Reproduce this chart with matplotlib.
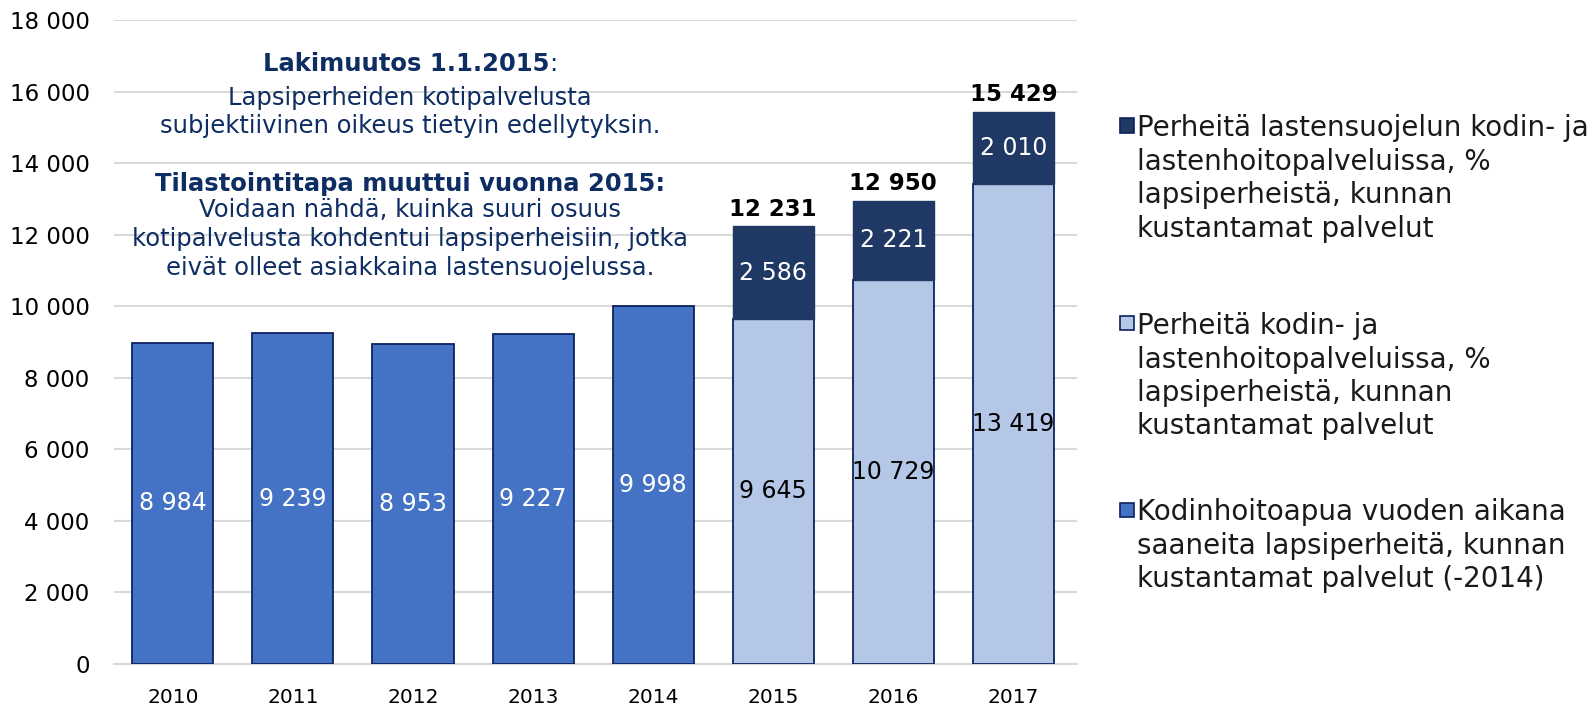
import matplotlib
matplotlib.use("Agg")
import matplotlib.pyplot as plt
from matplotlib.patches import Rectangle
import numpy as np

plt.rcParams['font.family'] = ['DejaVu Sans']

years = ['2010', '2011', '2012', '2013', '2014', '2015', '2016', '2017']
kodinhoitoapua = [8984, 9239, 8953, 9227, 9998, None, None, None]
kodin_lasten = [None, None, None, None, None, 9645, 10729, 13419]
lastensuojelu = [None, None, None, None, None, 2586, 2221, 2010]
yticks = [0, 2000, 4000, 6000, 8000, 10000, 12000, 14000, 16000, 18000]

legend_labels = [
    "Perheitä lastensuojelun kodin- ja\nlastenhoitopalveluissa, %\nlapsiperheistä, kunnan\nkustantamat palvelut",
    "Perheitä kodin- ja\nlastenhoitopalveluissa, %\nlapsiperheistä, kunnan\nkustantamat palvelut",
    "Kodinhoitoapua vuoden aikana\nsaaneita lapsiperheitä, kunnan\nkustantamat palvelut (-2014)",
]

C_MID = '#4472C4'
C_LIGHT = '#B4C7E7'
C_DARK = '#203864'
C_EDGE = '#0D2260'
NAVY = '#0E2D63'

def fmt(v):
    return f"{v:,}".replace(',', ' ')

fig = plt.figure(figsize=(15.93, 7.05), dpi=100)
ax = fig.add_axes([114/1593, 1 - 664/705, (1077-114)/1593, (664-20)/705])

x = np.arange(len(years))
w = 0.675

# series 1: 2010-2014
i1 = [i for i, v in enumerate(kodinhoitoapua) if v is not None]
v1 = [kodinhoitoapua[i] for i in i1]
ax.bar(i1, v1, width=w, color=C_MID, edgecolor=C_EDGE, linewidth=1.3, zorder=3)
for i, v in zip(i1, v1):
    ax.text(i, v / 2, fmt(v), ha='center', va='center', color='white', fontsize=17, zorder=5)

# series 2 & 3: 2015-2017
i2 = [i for i, v in enumerate(kodin_lasten) if v is not None]
v2 = [kodin_lasten[i] for i in i2]
v3 = [lastensuojelu[i] for i in i2]
ax.bar(i2, v2, width=w, color=C_LIGHT, edgecolor=C_EDGE, linewidth=1.3, zorder=3)
ax.bar(i2, v3, width=w, bottom=v2, color=C_DARK, edgecolor=C_DARK, linewidth=1.0, zorder=3)
for i, a, b in zip(i2, v2, v3):
    ax.text(i, a / 2, fmt(a), ha='center', va='center', color='black', fontsize=17, zorder=5)
    ax.text(i, a + b / 2, fmt(b), ha='center', va='center', color='white', fontsize=17, zorder=5)
    ax.annotate(fmt(a + b), (i, a + b), xytext=(0, 4), textcoords='offset points',
                ha='center', va='bottom', fontsize=16.5, fontweight='bold', color='black', zorder=5)

ax.set_xlim(-0.49, 7.53)
ax.set_ylim(0, 18000)
ax.set_yticks(yticks)
ax.set_yticklabels([fmt(t) for t in yticks], fontsize=16.5)
ax.set_xticks(x)
ax.set_xticklabels(years, fontsize=14.5)
ax.tick_params(axis='y', length=0, pad=17.5)
ax.tick_params(axis='x', length=0, pad=17)
ax.grid(axis='y', color='#D9D9D9', linewidth=1.5, zorder=0)
for s in ax.spines.values():
    s.set_visible(False)
ax.spines['bottom'].set_visible(True)
ax.spines['bottom'].set_color('#D9D9D9')
ax.spines['bottom'].set_linewidth(1.5)

# annotation text
cx = 410 / 1593
fs_ann = 17.5
lines = [
    ("Lakimuutos 1.1.2015", 'bold', 64, ":"),
    ("Lapsiperheiden kotipalvelusta", 'normal', 98, None),
    ("subjektiivinen oikeus tietyin edellytyksin.", 'normal', 126, None),
    ("Tilastointitapa muuttui vuonna 2015:", 'bold', 184, None),
    ("Voidaan nähdä, kuinka suuri osuus", 'normal', 210, None),
    ("kotipalvelusta kohdentui lapsiperheisiin, jotka", 'normal', 239, None),
    ("eivät olleet asiakkaina lastensuojelussa.", 'normal', 268, None),
]
for txt, wt, yy, suffix in lines:
    if suffix:
        t = fig.text(cx, 1 - yy / 705, txt, ha='center', va='center', fontsize=fs_ann,
                     fontweight=wt, color=NAVY)
        fig.canvas.draw()
        bb = t.get_window_extent()
        t.set_position((cx - 4 / 1593, 1 - yy / 705))
        fig.text(bb.x1 / 1593 - 4 / 1593, 1 - yy / 705, suffix, ha='left', va='center',
                 fontsize=fs_ann, color=NAVY)
    else:
        fig.text(cx, 1 - yy / 705, txt, ha='center', va='center', fontsize=fs_ann,
                 fontweight=wt, color=NAVY)

# legend (manual)
leg_colors = [C_DARK, C_LIGHT, C_MID]
leg_first = [125, 323, 509]
line_h = 33.5
for col, lab, y0 in zip(leg_colors, legend_labels, leg_first):
    fig.patches.append(Rectangle((1120 / 1593, 1 - (y0 + 7.5) / 705), 14 / 1593, 14 / 705,
                                 transform=fig.transFigure, facecolor=col,
                                 edgecolor=C_EDGE, linewidth=1.2))
    for k, ln in enumerate(lab.split('\n')):
        fig.text(1137 / 1593, 1 - (y0 + k * line_h) / 705, ln, ha='left', va='center_baseline',
                 fontsize=20, color='#1a1a1a')

fig.savefig('out.png', dpi=100)
